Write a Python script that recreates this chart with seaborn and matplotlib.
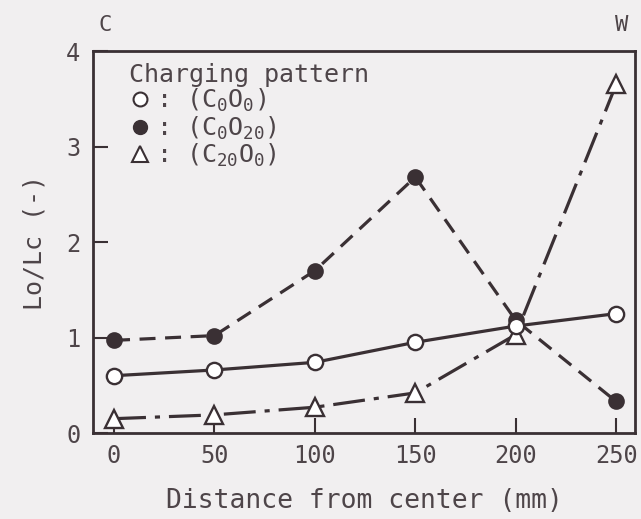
import matplotlib
matplotlib.use("Agg")
import matplotlib.pyplot as plt
from matplotlib.lines import Line2D
import seaborn as sns
import pandas as pd

# Distance from the furnace centre (mm) and the Lo/Lc ratio for each charging pattern
distance = [0, 50, 100, 150, 200, 250]
c0o0 = [0.60, 0.66, 0.74, 0.95, 1.12, 1.25]
c0o20 = [0.97, 1.02, 1.70, 2.68, 1.18, 0.33]
c20o0 = [0.15, 0.19, 0.27, 0.42, 1.03, 3.65]

x_ticks = [0, 50, 100, 150, 200, 250]
y_ticks = [0, 1, 2, 3, 4]

pattern_labels = [r": (C$_0$O$_0$)", r": (C$_0$O$_{20}$)", r": (C$_{20}$O$_0$)"]

INK = "#3a3034"
TEXT = "#4e4549"
PAPER = "#f1eff0"

sns.set_theme(style="white")
plt.rcParams["font.family"] = ["DejaVu Sans Mono", "DejaVu Sans"]
plt.rcParams["mathtext.fontset"] = "custom"
plt.rcParams["mathtext.rm"] = "DejaVu Sans Mono"
plt.rcParams["mathtext.it"] = "DejaVu Sans Mono"
plt.rcParams["text.color"] = TEXT

df = pd.DataFrame({
    "distance": distance * 3,
    "ratio": c0o0 + c0o20 + c20o0,
    "pattern": ["C0O0"] * 6 + ["C0O20"] * 6 + ["C20O0"] * 6,
})

fig = plt.figure(figsize=(6.41, 5.19), dpi=100, facecolor=PAPER)
ax = fig.add_axes([0.145, 0.1657, 0.846, 0.736])
ax.set_facecolor(PAPER)

lw = 2.3
# filled circles, dashed line
sns.lineplot(data=df[df.pattern == "C0O20"], x="distance", y="ratio", ax=ax,
             color=INK, lw=lw, linestyle=(0, (5.0, 3.0)),
             marker="o", markersize=10.5, markerfacecolor=INK,
             markeredgecolor=INK, markeredgewidth=1.5, zorder=3)
# triangles, dash-dot line
sns.lineplot(data=df[df.pattern == "C20O0"], x="distance", y="ratio", ax=ax,
             color=INK, lw=lw, linestyle=(0, (10, 2.8, 1.6, 2.8)),
             marker="^", markersize=13, markerfacecolor="white",
             markeredgecolor=INK, markeredgewidth=1.7, zorder=4)
# open circles, solid line
sns.lineplot(data=df[df.pattern == "C0O0"], x="distance", y="ratio", ax=ax,
             color=INK, lw=lw, linestyle="-",
             marker="o", markersize=11, markerfacecolor="white",
             markeredgecolor=INK, markeredgewidth=1.7, zorder=5)

ax.set_xlim(-10.5, 259.5)
ax.set_ylim(0, 4)
ax.set_xticks(x_ticks)
ax.set_yticks(y_ticks)
ax.set_xticklabels([str(v) for v in x_ticks])
ax.set_yticklabels([str(v) for v in y_ticks])

ax.tick_params(axis="both", which="major", direction="in", length=11, width=1.5,
               color=INK, labelsize=17, labelcolor=TEXT,
               bottom=True, left=True, top=False, right=False)
ax.tick_params(axis="x", pad=8)
ax.tick_params(axis="y", pad=9)

for side in ["left", "right", "top", "bottom"]:
    ax.spines[side].set_visible(True)
    ax.spines[side].set_color(INK)
    ax.spines[side].set_linewidth(2.0)

ax.set_xlabel("Distance from center (mm)", fontsize=19, color=TEXT, labelpad=14)
ax.set_ylabel("Lo/Lc (-)", fontsize=18, color=TEXT, labelpad=14)

# position markers above the plot: C = centre, W = wall
fig.text(105 / 641, 1 - 25 / 519, "C", fontsize=16, color=TEXT, ha="center", va="center")
fig.text(622 / 641, 1 - 25 / 519, "W", fontsize=16, color=TEXT, ha="center", va="center")

handles = [
    Line2D([], [], ls="none", marker="o", markersize=10, markerfacecolor="white",
           markeredgecolor=INK, markeredgewidth=1.5),
    Line2D([], [], ls="none", marker="o", markersize=10, markerfacecolor=INK,
           markeredgecolor=INK),
    Line2D([], [], ls="none", marker="^", markersize=12, markerfacecolor="white",
           markeredgecolor=INK, markeredgewidth=1.5),
]
leg = ax.legend(handles=handles, labels=pattern_labels, title="Charging pattern",
                loc="upper left", bbox_to_anchor=(0.066, 0.968), frameon=False,
                fontsize=18, title_fontsize=18, handlelength=0.9,
                handletextpad=0.2, labelspacing=0.0, borderpad=0,
                borderaxespad=0, alignment="left")
for t in leg.get_texts():
    t.set_color(TEXT)
leg.get_title().set_color(TEXT)

fig.savefig("out.png", dpi=100, facecolor=PAPER)
